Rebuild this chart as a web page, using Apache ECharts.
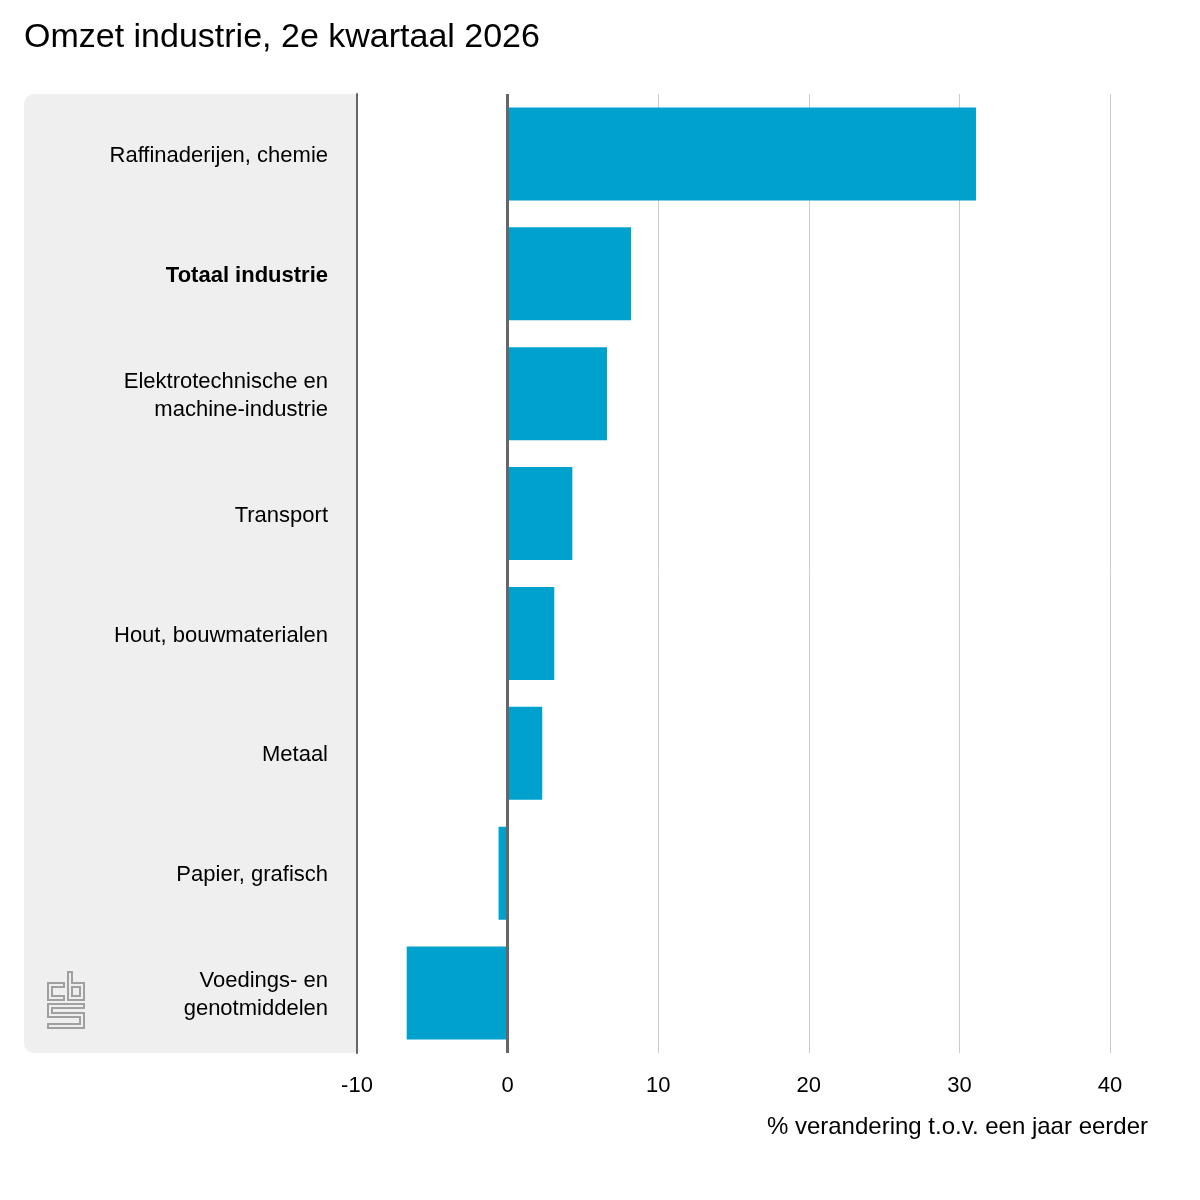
<!DOCTYPE html>
<html>
<head>
<meta charset="utf-8">
<script src="https://cdn.jsdelivr.net/npm/echarts@6/dist/echarts.min.js"></script>
<style>
html,body{margin:0;padding:0;background:#fff;}
#chart{width:1200px;height:1200px;}
</style>
</head>
<body>
<div id="chart"></div>
<script>
const titleText = 'Omzet industrie, 2e kwartaal 2026';
const categories = [
  'Raffinaderijen, chemie',
  'Totaal industrie',
  'Elektrotechnische en\nmachine-industrie',
  'Transport',
  'Hout, bouwmaterialen',
  'Metaal',
  'Papier, grafisch',
  'Voedings- en\ngenotmiddelen'
];
const values = [31.1, 8.2, 6.6, 4.3, 3.1, 2.3, -0.6, -6.7];
const boldCategory = 'Totaal industrie';
const xTicks = [-10, 0, 10, 20, 30, 40];
const xAxisName = '% verandering t.o.v. een jaar eerder';

const FONT = '"Liberation Sans", Arial, sans-serif';
const chart = echarts.init(document.getElementById('chart'), null, {renderer: 'canvas'});

// cbs logo outline
const lx = 48, ly = 972;
const logoShapes = [
  [[16,11],[0,11],[0,28],[16,28],[16,24],[4,24],[4,15],[16,15]],
  [[20,0],[24,0],[24,11],[36,11],[36,28],[20,28]],
  [[24,15],[32,15],[32,24],[24,24]],
  [[0,32],[36,32],[36,36],[4,36],[4,41],[36,41],[36,56],[0,56],[0,52],[32,52],[32,45],[0,45]]
].map(pts => ({
  type: 'polygon',
  z: 1,
  shape: {points: pts.map(p => [lx + p[0], ly + p[1]])},
  style: {fill: 'none', stroke: '#a0a0a0', lineWidth: 2}
}));

chart.setOption({
  animation: false,
  backgroundColor: '#ffffff',
  title: {
    text: titleText,
    left: 24, top: 21, padding: 0,
    textStyle: {fontFamily: FONT, fontSize: 34, fontWeight: 'normal', color: '#000'}
  },
  graphic: [
    {
      type: 'rect', z: 0,
      shape: {x: 24, y: 94, width: 333, height: 959, r: [10, 0, 0, 10]},
      style: {fill: '#efefef'}
    },
    ...logoShapes,
    {
      type: 'text', z: 5,
      right: 52, top: 1115,
      style: {text: xAxisName, font: '24px ' + FONT, fill: '#000'}
    }
  ],
  grid: {left: 357, right: 90, top: 94, bottom: 147, containLabel: false},
  xAxis: {
    type: 'value',
    min: -10, max: 40, interval: 10,
    axisLine: {show: false},
    axisTick: {show: false},
    axisLabel: {
      margin: 22, fontFamily: FONT, fontSize: 22, color: '#000',
      customValues: xTicks
    },
    splitLine: {show: true, lineStyle: {color: '#cccccc', width: 1}}
  },
  yAxis: {
    type: 'category',
    data: categories,
    inverse: true,
    axisLine: {show: true, onZero: false, lineStyle: {color: '#666666', width: 2}},
    axisTick: {show: false},
    axisLabel: {
      margin: 29,
      padding: [4, 0, 0, 0],
      fontFamily: FONT, fontSize: 22, color: '#000', lineHeight: 28,
      align: 'right',
      formatter: v => v === boldCategory ? '{b|' + v + '}' : v,
      rich: {b: {fontFamily: FONT, fontSize: 22, fontWeight: 'bold', color: '#000'}}
    },
    splitLine: {show: false}
  },
  series: [{
    type: 'bar',
    data: values,
    barWidth: 93,
    z: 3,
    itemStyle: {color: '#00a1cd'},
    markLine: {
      silent: true,
      symbol: 'none',
      label: {show: false},
      lineStyle: {color: '#666666', width: 3, type: 'solid'},
      data: [{xAxis: 0}],
      z: 4
    }
  }]
});
</script>
</body>
</html>
